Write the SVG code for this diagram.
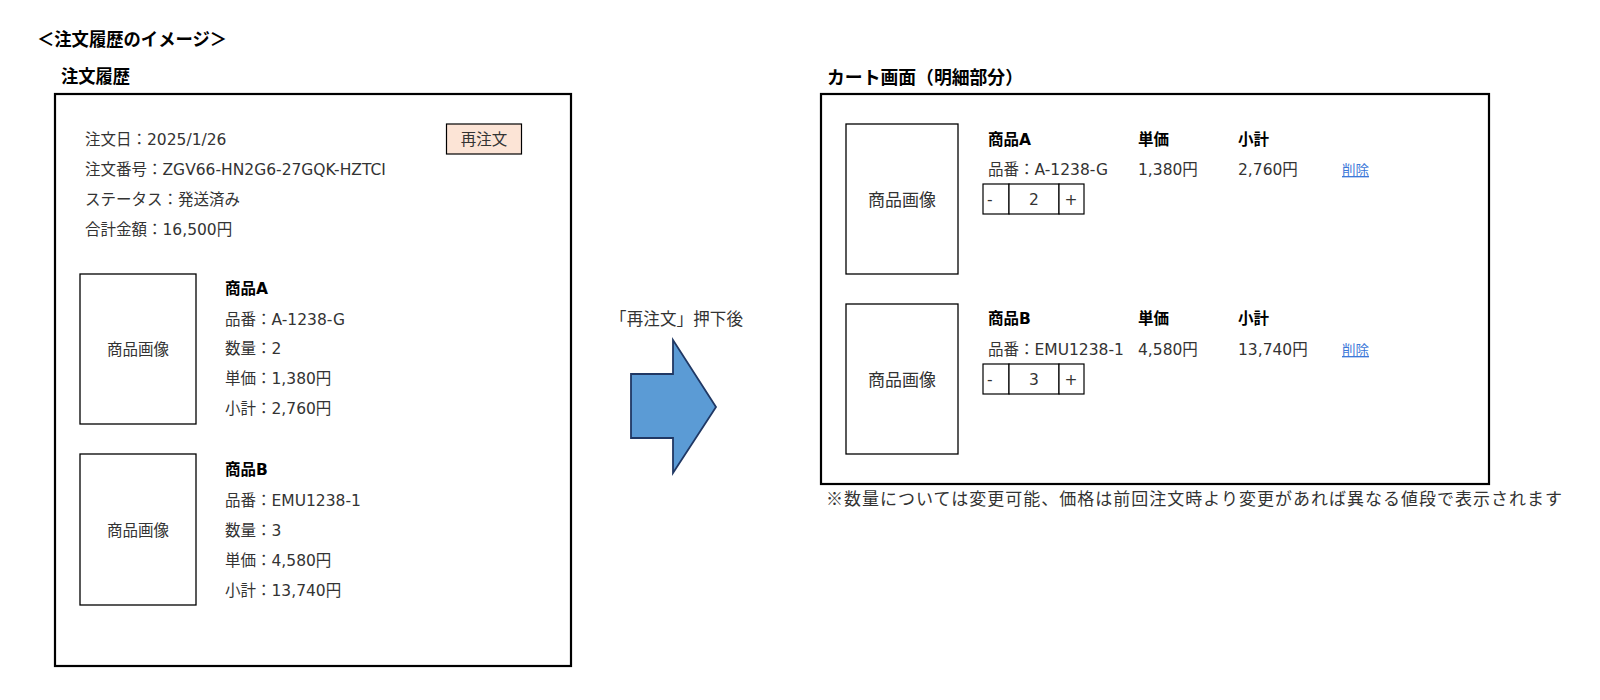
<svg xmlns="http://www.w3.org/2000/svg" width="1600" height="700" viewBox="0 0 1600 700">
<style>
text{font-family:"DejaVu Sans","Noto Sans CJK JP",sans-serif;fill:#333;font-size:15.5px}
.h{font-family:"Noto Sans CJK JP","Noto Sans CJK SC",sans-serif;font-weight:bold;fill:#000;font-size:18px}
.b{font-family:"Noto Sans CJK JP","DejaVu Sans",sans-serif;font-weight:bold;fill:#000;font-size:15.5px}
.bb{font-family:"DejaVu Sans","Noto Sans CJK JP",sans-serif;font-weight:bold;fill:#000}
.j{font-family:"Noto Sans CJK JP","DejaVu Sans",sans-serif}
.frame{fill:#fff;stroke:#000;stroke-width:2.2}
.img{fill:#fff;stroke:#000;stroke-width:1.3}
.cell{fill:#fff;stroke:#000;stroke-width:1.2}
.lnk{fill:#3C78D8;font-size:13.5px;text-decoration:underline}
.c{text-anchor:middle}
</style>
<rect width="1600" height="700" fill="#fff"/>
<text class="h" x="37" y="46" textLength="190" lengthAdjust="spacingAndGlyphs">＜注文履歴のイメージ＞</text>

<g id="order-history">
<text class="h" x="61" y="83" textLength="69" lengthAdjust="spacingAndGlyphs">注文履歴</text>
<rect class="frame" x="55" y="94" width="516" height="572"/>
<text x="85" y="145">注文日：2025/1/26</text>
<text x="85" y="175">注文番号：ZGV66-HN2G6-27GQK-HZTCI</text>
<text x="85" y="205">ステータス：発送済み</text>
<text x="85" y="235">合計金額：16,500円</text>
</g>

<g id="reorder-button">
<rect x="446.5" y="124" width="75" height="30" fill="#FCE4D6" stroke="#000" stroke-width="1.2"/>
<text class="c" x="484" y="145">再注文</text>
</g>

<g id="history-item-a">
<rect class="img" x="80" y="274" width="116" height="150"/>
<text class="c" x="138" y="355">商品画像</text>
<text class="bb" x="225" y="294">商品A</text>
<text x="225" y="325">品番：A-1238-G</text>
<text x="225" y="354">数量：2</text>
<text x="225" y="384">単価：1,380円</text>
<text x="225" y="414">小計：2,760円</text>
</g>

<g id="history-item-b">
<rect class="img" x="80" y="454" width="116" height="151"/>
<text class="c" x="138" y="536">商品画像</text>
<text class="bb" x="225" y="475">商品B</text>
<text x="225" y="506">品番：EMU1238-1</text>
<text x="225" y="536">数量：3</text>
<text x="225" y="566">単価：4,580円</text>
<text x="225" y="596">小計：13,740円</text>
</g>

<g id="connectors">
<text class="j" x="610" y="325" style="font-size:16.5px" textLength="133" lengthAdjust="spacing">「再注文」押下後</text>
<polygon points="631,374 673,374 673,340 716,407 673,473 673,438 631,438" fill="#5B9BD5" stroke="#203864" stroke-width="1.8" stroke-linejoin="miter"/>
</g>

<g id="cart">
<text class="h" x="827" y="84" textLength="196" lengthAdjust="spacingAndGlyphs">カート画面（明細部分）</text>
<rect class="frame" x="821" y="94" width="668" height="390"/>
</g>

<g id="cart-item-a">
<rect class="img" x="846" y="124" width="112" height="150"/>
<text class="c" x="902" y="206" style="font-size:17px">商品画像</text>
<text class="bb" x="988" y="145">商品A</text>
<text class="b" x="1138" y="145">単価</text>
<text class="b" x="1238" y="145">小計</text>
<text x="988" y="175">品番：A-1238-G</text>
<text x="1138" y="175">1,380円</text>
<text x="1238" y="175">2,760円</text>
<text class="lnk" x="1342" y="175">削除</text>
<rect class="cell" x="983" y="184" width="26" height="30"/>
<rect class="cell" x="1009" y="184" width="50" height="30"/>
<rect class="cell" x="1059" y="184" width="25" height="30"/>
<text x="987" y="205">-</text>
<text class="c" x="1034" y="205">2</text>
<text class="c" x="1071" y="205">+</text>
</g>

<g id="cart-item-b">
<rect class="img" x="846" y="304" width="112" height="150"/>
<text class="c" x="902" y="386" style="font-size:17px">商品画像</text>
<text class="bb" x="988" y="324">商品B</text>
<text class="b" x="1138" y="324">単価</text>
<text class="b" x="1238" y="324">小計</text>
<text x="988" y="355">品番：EMU1238-1</text>
<text x="1138" y="355">4,580円</text>
<text x="1238" y="355">13,740円</text>
<text class="lnk" x="1342" y="355">削除</text>
<rect class="cell" x="983" y="364" width="26" height="30"/>
<rect class="cell" x="1009" y="364" width="50" height="30"/>
<rect class="cell" x="1059" y="364" width="25" height="30"/>
<text x="987" y="385">-</text>
<text class="c" x="1034" y="385">3</text>
<text class="c" x="1071" y="385">+</text>
</g>

<g id="note">
<text class="j" x="826" y="505" style="font-size:17px" textLength="736" lengthAdjust="spacing">※数量については変更可能、価格は前回注文時より変更があれば異なる値段で表示されます</text>
</g>
</svg>
